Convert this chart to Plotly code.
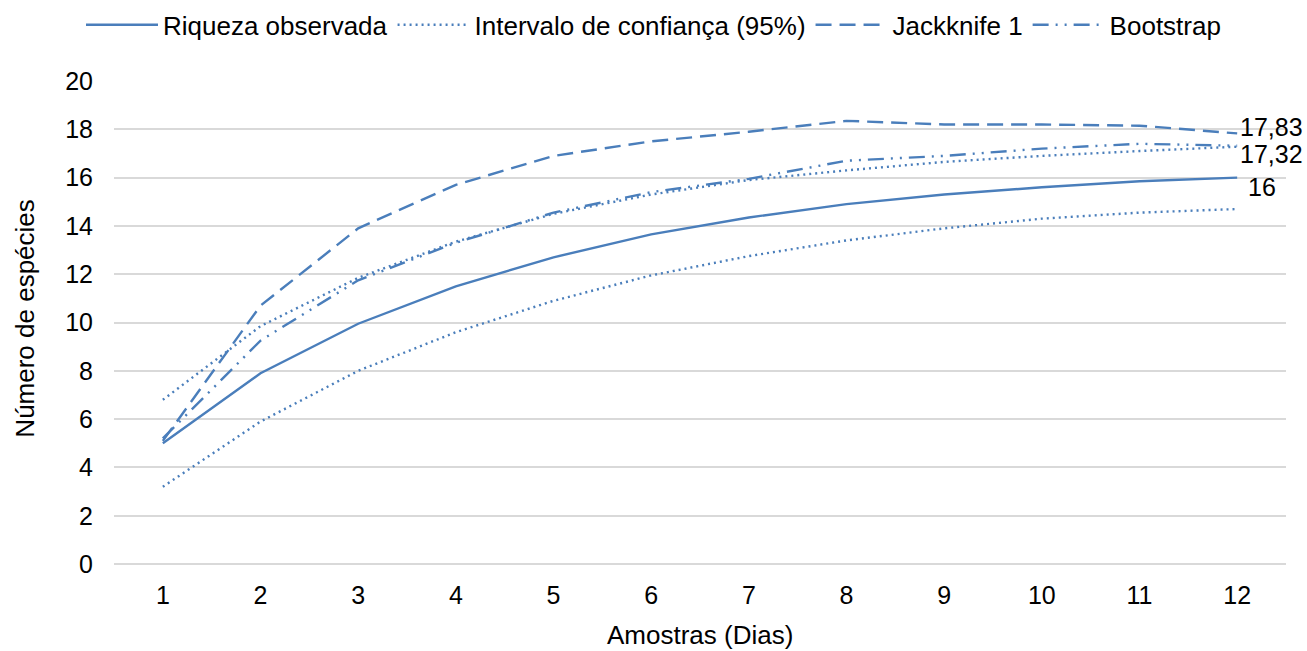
import plotly.graph_objects as go

dias = [1, 2, 3, 4, 5, 6, 7, 8, 9, 10, 11, 12]
riqueza = [5.0, 7.9, 9.95, 11.5, 12.7, 13.65, 14.35, 14.9, 15.3, 15.6, 15.85, 16.0]
ic_inferior = [3.2, 5.9, 8.0, 9.6, 10.9, 11.95, 12.75, 13.4, 13.9, 14.3, 14.55, 14.7]
ic_superior = [6.8, 9.85, 11.85, 13.35, 14.5, 15.3, 15.9, 16.3, 16.65, 16.9, 17.1, 17.28]
jackknife = [5.1, 10.7, 13.9, 15.7, 16.9, 17.5, 17.9, 18.35, 18.2, 18.2, 18.15, 17.83]
bootstrap = [5.2, 9.25, 11.75, 13.3, 14.55, 15.4, 15.95, 16.7, 16.9, 17.2, 17.4, 17.32]
y_ticks = [0, 2, 4, 6, 8, 10, 12, 14, 16, 18, 20]

COLOR = "#4a7ebb"
FONT = "Liberation Sans, Arial, sans-serif"
FS = 25

fig = go.Figure()
fig.add_trace(go.Scatter(x=dias, y=riqueza, mode="lines", name="Riqueza observada",
                         line=dict(color=COLOR, width=2.4)))
fig.add_trace(go.Scatter(x=dias, y=ic_inferior, mode="lines", name="Intervalo de confiança (95%)",
                         line=dict(color=COLOR, width=2.4, dash="2px,4px"), legendgroup="ic"))
fig.add_trace(go.Scatter(x=dias, y=ic_superior, mode="lines", name="Intervalo de confiança (95%)",
                         line=dict(color=COLOR, width=2.4, dash="2px,4px"), legendgroup="ic",
                         showlegend=False))
fig.add_trace(go.Scatter(x=dias, y=jackknife, mode="lines", name="Jackknife 1",
                         line=dict(color=COLOR, width=2.4, dash="16px,8px")))
fig.add_trace(go.Scatter(x=dias, y=bootstrap, mode="lines", name="Bootstrap",
                         line=dict(color=COLOR, width=2.4, dash="16px,7px,2px,7px,2px,7px")))

labels = [(jackknife[-1], "17,83", 1, 6), (bootstrap[-1], "17,32", 1, -8), (riqueza[-1], "16", 9, -9)]
for val, txt, xs, ys in labels:
    fig.add_annotation(x=dias[-1], y=val, text=txt, showarrow=False, xanchor="left",
                       yanchor="middle", xshift=xs, yshift=ys,
                       font=dict(family=FONT, size=FS, color="#000000"))

# axis titles
fig.add_annotation(text="Amostras (Dias)", xref="paper", yref="paper", x=0.5, y=0,
                   xanchor="center", yanchor="middle", yshift=-69, showarrow=False,
                   font=dict(family=FONT, size=26, color="#000000"))
fig.add_annotation(text="Número de espécies", xref="paper", yref="paper", x=0, y=0.51,
                   xanchor="center", yanchor="middle", xshift=-89, textangle=-90,
                   showarrow=False, font=dict(family=FONT, size=26, color="#000000"))

fig.update_layout(
    width=1307, height=651,
    margin=dict(l=114, r=21, t=81, b=85, autoexpand=False),
    paper_bgcolor="white", plot_bgcolor="white",
    font=dict(family=FONT, size=FS, color="#000000"),
    showlegend=True,
    legend=dict(orientation="h", x=0.5, xanchor="center", xref="container",
                y=0.998, yref="container", yanchor="top",
                font=dict(family=FONT, size=26), itemwidth=72, tracegroupgap=0),
    xaxis=dict(range=[0.5, 12.5], tickmode="array", tickvals=dias,
               ticktext=[str(d) for d in dias], showgrid=False, zeroline=False,
               showline=False, ticks="", ticklabelstandoff=12, automargin=False),
    yaxis=dict(range=[-0.08, 20], tickmode="array", tickvals=y_ticks,
               ticktext=[str(v) for v in y_ticks], showgrid=True, gridcolor="#d9d9d9",
               gridwidth=1.5, zeroline=False, showline=False, ticks="",
               ticklabelstandoff=20, automargin=False),
)
fig.write_html("out.html")
